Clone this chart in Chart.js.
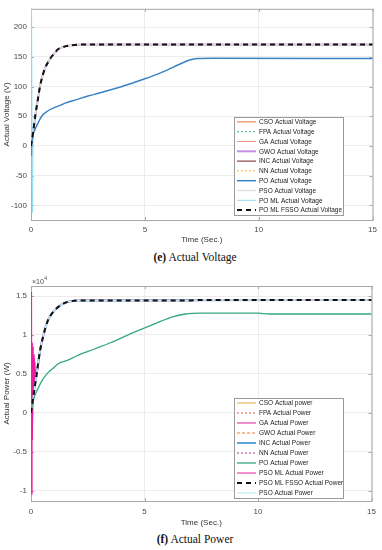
<!DOCTYPE html>
<html>
<head>
<meta charset="utf-8">
<script src="https://cdn.jsdelivr.net/npm/chart.js@4.4.1/dist/chart.umd.min.js"></script>
<style>
body{margin:0;background:#fff;width:382px;height:550px;position:relative;overflow:hidden}
canvas{position:absolute;left:0}
#c1{top:0}
#c2{top:270px}
.cap{position:absolute;left:8px;width:374px;text-align:center;font-family:"Liberation Serif","DejaVu Serif",serif;font-size:11.5px;line-height:13px;color:#111}
#cap1{top:251px}
#cap2{top:533px}
</style>
</head>
<body>
<canvas id="c1" width="382" height="250"></canvas>
<div class="cap" id="cap1"><b>(e)</b> Actual Voltage</div>
<canvas id="c2" width="382" height="262"></canvas>
<div class="cap" id="cap2"><b>(f)</b> Actual Power</div>
<script>
// ticks
const timeTicks = [0, 5, 10, 15];
const voltTicks = [-100, -50, 0, 50, 100, 150, 200];
const powTicks = [-10000, -5000, 0, 5000, 10000, 15000];

// (e) voltage traces
const vFastTime = [0, 0.1, 0.2, 0.3, 0.4, 0.5, 0.64, 0.8, 0.9, 1.05, 1.2, 1.5, 1.8, 2.2, 15];
const vFast     = [0, 25, 54, 78, 101, 117, 133, 144, 150, 157, 163, 167.5, 169.5, 170.5, 170.5];
const vSlowTime = [0, 0.1, 0.2, 0.3, 0.47, 0.7, 1.0, 1.2, 1.5, 2.0, 2.5, 3.0, 4.0, 5.0, 5.5, 6.0, 6.5, 7.0, 7.3, 8, 15];
const vSlow     = [0, 20, 30, 38, 50, 58, 64, 67, 72, 78, 84, 89, 100, 113, 120, 128, 137, 145, 147, 147.5, 147];
const incVTime  = [0, 0.03, 0.05, 0.08, 0.12, 0.2, 0.3, 0.4, 0.5, 0.64, 0.8, 0.9, 1.05, 1.2, 1.5, 1.8, 2.2, 15];
const incV      = [0, -16, 2, 18, 30, 54, 78, 101, 117, 133, 144, 150, 157, 163, 167.5, 169.5, 170.5, 170.5];
const poMlVTime = [0, 0.02, 0.06, 0.1, 0.15, 0.2, 0.3, 0.4, 0.5, 0.64, 0.8, 0.9, 1.05, 1.2, 1.5, 1.8, 2.2, 15];
const poMlV     = [0, 235, -112, 40, 35, 54, 78, 101, 117, 133, 144, 150, 157, 163, 167.5, 169.5, 170.5, 170.5];

// (f) power traces (W)
const pFastTime = [0, 0.1, 0.25, 0.4, 0.55, 0.75, 1.05, 1.4, 1.9, 2.5, 7, 7.5, 15];
const pFast     = [0, 2000, 5000, 8000, 10000, 11900, 13200, 14000, 14400, 14450, 14450, 14500, 14500];
const pSlowTime = [0, 0.05, 0.14, 0.32, 0.5, 0.7, 1.0, 1.2, 1.56, 2.0, 2.8, 3.5, 4.5, 5.5, 6.2, 6.8, 7.5, 10, 10.5, 15];
const pSlow     = [0, 1000, 2000, 3200, 4200, 5000, 5800, 6300, 6700, 7300, 8200, 9000, 10300, 11500, 12300, 12700, 12800, 12800, 12700, 12700];
const incPTime  = [0, 0.04, 0.07, 0.1, 0.25, 0.4, 0.55, 0.75, 1.05, 1.4, 1.9, 2.5, 15];
const incP      = [0, -2500, 500, 2000, 5000, 8000, 10000, 11900, 13200, 14000, 14400, 14450, 14500];
const psoMlPTime = [0, 0.025, 0.04, 0.05, 0.06, 0.07, 0.08, 0.09, 0.1, 0.11, 0.12, 0.13, 0.14, 0.15, 0.16, 0.17, 0.185, 0.2, 0.25, 0.4, 0.55, 0.75, 1.05, 1.4, 1.9, 2.5, 7, 7.5, 15];
const psoMlP     = [0, 15500, -10500, 9000, -3500, 7500, 1500, 8500, 2500, 6500, 3000, 7500, 3500, 7000, 4000, 6500, 5000, 5600, 5000, 8000, 10000, 11900, 13200, 14000, 14400, 14450, 14450, 14500, 14500];

const FONT = '"Liberation Sans", Arial, sans-serif';
Chart.defaults.font.family = FONT;
Chart.defaults.color = '#4a4a4a';

function pts(xs, ys){ return xs.map((x,i)=>({x:x, y:ys[i]})); }
function ds(label, xs, ys, color, width, dash, order){
  return {label, data: pts(xs, ys), borderColor: color, borderWidth: width,
    borderDash: dash || [], order: order, pointRadius: 0, fill: false,
    cubicInterpolationMode: 'monotone'};
}

// matlab-ish box with inner ticks, drawn under the traces
const framePlugin = {
  id: 'frame',
  beforeDatasetsDraw(chart, args, opts){
    const {ctx, chartArea: a} = chart;
    const sx = chart.scales.x, sy = chart.scales.y;
    ctx.save();
    ctx.strokeStyle = '#a8a8a8'; ctx.lineWidth = 1;
    ctx.strokeRect(a.left + 0.5, a.top + 0.5, a.right - a.left, a.bottom - a.top);
    ctx.beginPath();
    sy.ticks.forEach(t => {
      const y = Math.round(sy.getPixelForValue(t.value)) + 0.5;
      ctx.moveTo(a.left, y); ctx.lineTo(a.left + 3, y);
      ctx.moveTo(a.right, y); ctx.lineTo(a.right - 3, y);
    });
    sx.ticks.forEach(t => {
      const x = Math.round(sx.getPixelForValue(t.value)) + 0.5;
      ctx.moveTo(x, a.bottom); ctx.lineTo(x, a.bottom - 3);
      ctx.moveTo(x, a.top); ctx.lineTo(x, a.top + 3);
    });
    ctx.stroke();
    if(opts.expo){
      ctx.fillStyle = '#4a4a4a';
      ctx.font = '7px ' + FONT;
      ctx.textBaseline = 'middle';
      ctx.fillText('\u00d710', opts.expo.x, opts.expo.y);
      const w = ctx.measureText('\u00d710').width;
      ctx.font = '5px ' + FONT;
      ctx.fillText(opts.expo.sup, opts.expo.x + w + 0.5, opts.expo.y - 3);
    }
    ctx.restore();
  }
};

const legendPlugin = {
  id: 'boxLegend',
  afterDraw(chart, args, o){
    const ctx = chart.ctx, sets = chart.data.datasets;
    ctx.save();
    ctx.fillStyle = '#fff';
    ctx.fillRect(o.x, o.y, o.w, o.h);
    ctx.strokeStyle = '#9a9a9a'; ctx.lineWidth = 1;
    ctx.strokeRect(o.x + 0.5, o.y + 0.5, o.w, o.h);
    const rh = o.h / sets.length;
    ctx.font = '6.5px ' + FONT;
    ctx.textBaseline = 'middle';
    sets.forEach((d, i) => {
      const cy = o.y + rh * (i + 0.5);
      ctx.strokeStyle = d.borderColor;
      ctx.lineWidth = d.borderWidth;
      ctx.setLineDash(d.borderDash || []);
      ctx.beginPath(); ctx.moveTo(o.x + 3, cy); ctx.lineTo(o.x + 22, cy); ctx.stroke();
      ctx.setLineDash([]);
      ctx.fillStyle = '#222';
      ctx.fillText(d.label, o.x + 25, cy + 0.5);
    });
    ctx.restore();
  }
};

function baseOptions(yMin, yMax, yTicks, yTitle, xH, xPadT, xPadB, yFmt, legendBox, expo, topPad){
  return {
    responsive: false, animation: false,
    layout: {padding: {left: 0, right: 9, top: topPad, bottom: 0}},
    plugins: {legend: {display: false}, tooltip: {enabled: false},
      boxLegend: legendBox, frame: {expo: expo}},
    scales: {
      x: {type: 'linear', min: 0, max: 15,
        afterBuildTicks: s => { s.ticks = timeTicks.map(v => ({value: v})); },
        afterFit: s => { s.height = xH; },
        grid: {color: '#ececec', drawTicks: false}, border: {display: false},
        ticks: {padding: xPadT, font: {size: 8}, maxRotation: 0},
        title: {display: true, text: 'Time (Sec.)', font: {size: 8}, color: '#333', padding: {top: 0, bottom: xPadB}}},
      y: {min: yMin, max: yMax,
        afterBuildTicks: s => { s.ticks = yTicks.map(v => ({value: v})); },
        afterFit: s => { s.width = 31; },
        grid: {color: '#ececec', drawTicks: false}, border: {display: false},
        ticks: {padding: 4, font: {size: 8}, callback: yFmt},
        title: {display: true, text: yTitle, font: {size: 8}, color: '#333', padding: {top: 2, bottom: 0}}}
    }
  };
}

new Chart(document.getElementById('c1'), {
  type: 'line',
  data: {datasets: [
    ds('CSO Actual Voltage', vFastTime, vFast, '#e0733a', 1, [], 8),
    ds('FPA Actual Voltage', vFastTime, vFast, '#2fae9a', 1, [2, 2], 7),
    ds('GA Actual Voltage', vFastTime, vFast, '#f19a86', 1, [], 6),
    ds('GWO Actual Voltage', vFastTime, vFast, '#c38ee6', 2, [], 9),
    ds('INC Actual Voltage', incVTime, incV, '#7a1f1f', 1, [], 4),
    ds('NN Actual Voltage', vFastTime, vFast, '#f2b53a', 1, [2, 2], 5),
    ds('PO Actual Voltage', vSlowTime, vSlow, '#3b82c4', 1.5, [], 1),
    ds('PSO Actual Voltage', vFastTime, vFast, '#e6e0da', 1.5, [], 2),
    ds('PO ML Actual Voltage', poMlVTime, poMlV, '#8fdcf0', 1, [], 3),
    ds('PO ML FSSO Actual Voltage', vFastTime, vFast, '#111111', 2, [5, 4], 0)
  ]},
  options: baseOptions(-124.5, 230.7, voltTicks, 'Actual Voltage (V)', 30, 5, 5, v => String(v),
    {x: 234, y: 117, w: 109, h: 98}, null, 4),
  plugins: [framePlugin, legendPlugin]
});

new Chart(document.getElementById('c2'), {
  type: 'line',
  data: {datasets: [
    ds('CSO Actual power', pFastTime, pFast, '#e8a33a', 1, [], 8),
    ds('FPA Actual Power', pFastTime, pFast, '#e5533d', 1, [2, 2], 7),
    ds('GA Actual Power', pFastTime, pFast, '#f08fcf', 2, [], 6),
    ds('GWO Actual Power', pFastTime, pFast, '#f3a878', 1.3, [3, 2], 5),
    ds('INC Actual Power', incPTime, incP, '#5aa6d6', 2, [], 4),
    ds('NN Actual Power', pFastTime, pFast, '#9c3a8e', 1, [2, 2], 9),
    ds('PO Actual Power', pSlowTime, pSlow, '#36a87e', 1.3, [], 1),
    ds('PSO ML Actual Power', psoMlPTime, psoMlP, '#ec1fa0', 1, [], 3),
    ds('PSO ML FSSO Actual Power', pFastTime, pFast, '#111111', 2, [5, 4], 0),
    ds('PSO Actual Power', pFastTime, pFast, '#c9f0f2', 1.5, [], 2)
  ]},
  options: baseOptions(-11350, 16300, powTicks, 'Actual Power (W)', 31, 6, 4, v => String(v / 10000),
    {x: 234, y: 128, w: 109, h: 100}, {x: 32, y: 12, sup: '4'}, 16),
  plugins: [framePlugin, legendPlugin]
});
</script>
</body>
</html>
